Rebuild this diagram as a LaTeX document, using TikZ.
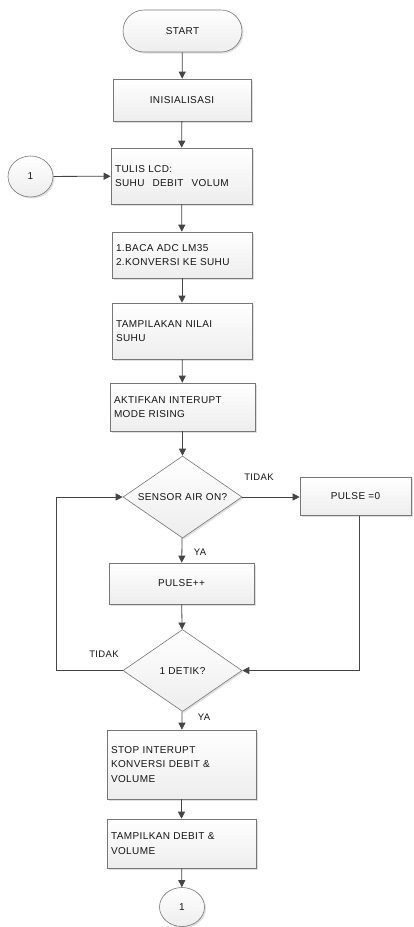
\documentclass[tikz,border=0pt]{standalone}
\usepackage{fontspec}
\setmainfont{Liberation Sans}[LetterSpace=4]
\usetikzlibrary{arrows.meta,shapes.geometric,shapes.misc,shadows,calc}
\definecolor{ln}{HTML}{454545}
\definecolor{bd}{HTML}{777777}
\definecolor{tx}{HTML}{141414}
\begin{document}
\begin{tikzpicture}[x=1pt,y=-1pt,
  every node/.style={font=\fontsize{10}{14.5}\selectfont, text=tx},
  shapebase/.style={draw=bd, line width=0.6pt, top color=white, bottom color=gray!14,
    drop shadow={shadow xshift=1.5pt,shadow yshift=-1.5pt,opacity=0.25,fill=gray}},
  procbox/.style 2 args={shapebase, rectangle, inner sep=0pt, minimum width=#1, minimum height=#2},
  leftbox/.style n args={3}{shapebase, rectangle, inner xsep=4pt, inner ysep=0pt,
    minimum width=#1, minimum height=#2, text width=#3, align=left},
  decide/.style={shapebase, diamond, aspect=1.5, inner sep=0pt, minimum width=119pt, minimum height=82pt},
  termin/.style={shapebase, rounded rectangle, inner sep=0pt, minimum width=119pt, minimum height=42pt},
  conn/.style={shapebase, ellipse, inner sep=0pt, minimum width=45pt, minimum height=41pt},
  flow/.style={draw=ln, line width=0.8pt, -{Triangle[width=7pt,length=7pt]}},
  lbl/.style={font=\fontsize{9.5}{11}\selectfont}
]
\useasboundingbox (0,0) rectangle (413,927);

\node[termin] (start) at (182.5,31) {START};
\node[procbox={138pt}{42pt}] (init) at (182,100) {INISIALISASI};
\node[leftbox={141pt}{56pt}{133pt}] (lcd) at (181.5,176) {TULIS LCD:\\SUHU\hspace{8pt}DEBIT\hspace{8pt}VOLUM};
\node[conn] (c1) at (30.5,176.5) {1};
\node[leftbox={140pt}{46pt}{132pt}] (baca) at (182,255) {1.BACA ADC LM35\\2.KONVERSI KE SUHU};
\node[leftbox={140pt}{56pt}{132pt}] (tamp) at (182,331) {TAMPILAKAN NILAI\\SUHU};
\node[leftbox={145pt}{48pt}{137pt}] (akt) at (182.5,407) {AKTIFKAN INTERUPT\\MODE RISING};
\node[decide] (sensor) at (182.5,497) {SENSOR AIR ON?};
\node[procbox={111pt}{38pt}] (pulse0) at (355.5,496.5) {PULSE =0};
\node[procbox={145pt}{41pt}] (pulsepp) at (181.5,583.5) {PULSE++};
\node[decide] (detik) at (182.5,670.5) {1 DETIK?};
\node[leftbox={149pt}{69pt}{141pt}] (stop) at (181.5,764.5) {STOP INTERUPT\\KONVERSI DEBIT \&\\VOLUME};
\node[leftbox={149pt}{49pt}{141pt}] (tampk) at (181.5,843.5) {TAMPILKAN DEBIT \&\\VOLUME};
\node[conn, minimum height=39pt] (c2) at (182,907) {1};

\coordinate (lx) at (56,0);
\coordinate (rx) at (359,0);

\draw[flow] (start) -- (init);
\draw[flow] (init) -- (lcd);
\draw[flow] (c1) -- (lcd);
\draw[flow] (lcd) -- (baca);
\draw[flow] (baca) -- (tamp);
\draw[flow] (tamp) -- (akt);
\draw[flow] (akt) -- (sensor);
\draw[flow] (sensor) -- (sensor -| pulse0.west);
\draw[flow] (sensor) -- (pulsepp);
\draw[flow] (pulsepp) -- (detik);
\draw[flow] (detik.west) -- (detik.west -| lx) -- (sensor.west -| lx) -- (sensor.west);
\draw[flow] (pulse0.south -| rx) -- (detik.east -| rx) -- (detik.east);
\draw[flow] (detik) -- (stop);
\draw[flow] (stop) -- (tampk);
\draw[flow] (tampk) -- (c2);

\node[lbl] (t1) at (259,477) {TIDAK};
\node[lbl] (y1) at (200,552) {YA};
\node[lbl] (t2) at (104,654) {TIDAK};
\node[lbl] (y2) at (204,717) {YA};
\end{tikzpicture}
\end{document}
